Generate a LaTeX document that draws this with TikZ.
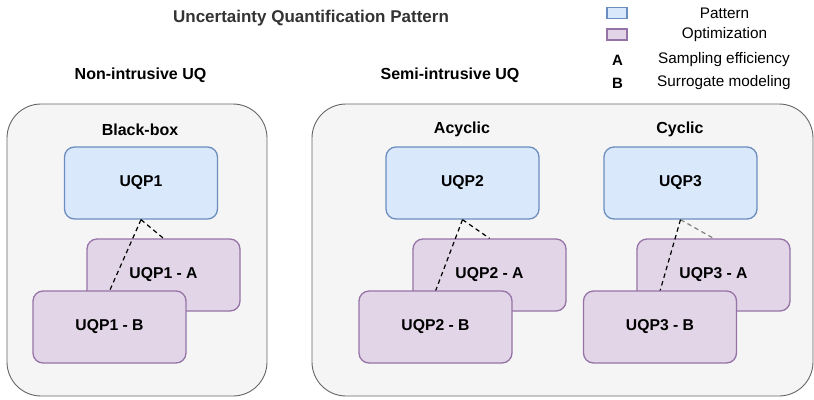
\documentclass[tikz,border=0pt]{standalone}
\usepackage{fontspec}
\setmainfont{Liberation Sans}
\definecolor{patfill}{HTML}{DAE8FC}
\definecolor{patdraw}{HTML}{6C8EBF}
\definecolor{optfill}{HTML}{E1D5E7}
\definecolor{optdraw}{HTML}{9673A6}
\definecolor{contfill}{HTML}{F5F5F5}
\definecolor{contdraw}{HTML}{666666}
\definecolor{titlecol}{HTML}{333333}
\tikzset{
  container/.style={draw=contdraw, fill=contfill, line width=0.9pt, rounded corners=34pt},
  uqbox/.style={draw, rounded corners=10pt, minimum width=153pt, minimum height=72pt, line width=1.3pt, inner sep=0pt, font=\bfseries\fontsize{15.7}{18}\selectfont},
  patbox/.style={uqbox, fill=patfill, draw=patdraw},
  optbox/.style={uqbox, fill=optfill, draw=optdraw},
  link/.style={dash pattern=on 4.5pt off 3.5pt, line width=1.2pt, draw=black},
  glink/.style={link, draw=gray},
  heading/.style={font=\bfseries\fontsize{16}{18}\selectfont},
  legendtxt/.style={font=\fontsize{15.3}{17}\selectfont},
  swatch/.style={draw, line width=1.2pt, minimum width=20pt, minimum height=11pt, inner sep=0pt}
}
\begin{document}
\begin{tikzpicture}[x=1pt,y=-1pt]
\useasboundingbox (0,0) rectangle (814,399);
% title
\node[font=\bfseries\fontsize{17}{20}\selectfont, text=titlecol] (title) at (311,18) {Uncertainty Quantification Pattern};
% legend
\node[swatch, fill=patfill, draw=patdraw] (sw1) at (617,13) {};
\node[swatch, fill=optfill, draw=optdraw] (sw2) at (617,34.5) {};
\node[legendtxt] (lg1) at (724.5,13.5) {Pattern};
\node[legendtxt] (lg2) at (724.5,34.5) {Optimization};
\node[font=\bfseries\fontsize{15}{17}\selectfont] (lgA) at (617.5,60) {A};
\node[legendtxt] (lg3) at (724,60) {Sampling efficiency};
\node[font=\bfseries\fontsize{15}{17}\selectfont] (lgB) at (617.5,83) {B};
\node[legendtxt] (lg4) at (724,83) {Surrogate modeling};
% section headings
\node[heading] (h1) at (140.5,75) {Non-intrusive UQ};
\node[heading] (h2) at (450,75) {Semi-intrusive UQ};
% containers
\draw[container] (7,104) rectangle (267,396);
\draw[container] (312,104) rectangle (813,396);
\node[heading] (bb) at (140,130) {Black-box};
\node[heading] (ac) at (462,129) {Acyclic};
\node[heading] (cy) at (680,129) {Cyclic};
% pattern boxes
\node[patbox] (p1) at (141,183) {UQP1};
\node[patbox] (p2) at (462.5,183) {UQP2};
\node[patbox] (p3) at (680.5,183) {UQP3};
% A boxes
\node[optbox] (a1) at (163.5,275) {UQP1 - A};
\node[optbox] (a2) at (489.5,275) {UQP2 - A};
\node[optbox] (a3) at (713.5,275) {UQP3 - A};
% tops of B boxes
\coordinate (b1top) at (109.5,291);
\coordinate (b2top) at (435.5,291);
\coordinate (b3top) at (660,291);
% links
\draw[link] (p1.south) -- (a1.north);
\draw[link] (p1.south) -- (b1top);
\draw[link] (p2.south) -- (a2.north);
\draw[link] (p2.south) -- (b2top);
\draw[glink] (p3.south) -- (a3.north);
\draw[link] (p3.south) -- (b3top);
% B boxes
\node[optbox] (b1) at (109.5,327) {UQP1 - B};
\node[optbox] (b2) at (435.5,327) {UQP2 - B};
\node[optbox] (b3) at (660,327) {UQP3 - B};
\end{tikzpicture}
\end{document}
